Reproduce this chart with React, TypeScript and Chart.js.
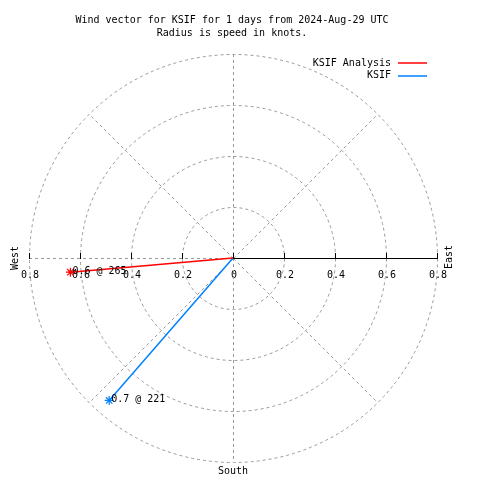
import React, { useEffect, useRef } from "react";
import { Chart, registerables } from "chart.js";

Chart.register(...registerables);

const titleLines = [
  "Wind vector for KSIF for 1 days from 2024-Aug-29 UTC",
  "Radius is speed in knots.",
];
const seriesNames = ["KSIF Analysis", "KSIF"];
const seriesColors = ["#ff0000", "#0080ff"];
const speeds = [0.64, 0.74];
const directions = [265, 221];
const ringValues = [0.2, 0.4, 0.6, 0.8];
const tickValues = [-0.8, -0.6, -0.4, -0.2, 0, 0.2, 0.4, 0.6, 0.8];
const spokeAngles = [45, 135, 225, 315];
const compassLabels = ["West", "East", "South"];
const rMax = 0.8;

const FONT = "10px 'DejaVu Sans Mono', 'Liberation Mono', monospace";
const GRID = "#999999";

function toXY(speed: number, dir: number) {
  const a = (dir * Math.PI) / 180;
  return { x: speed * Math.sin(a), y: speed * Math.cos(a) };
}

const polarPlugin = {
  id: "polarDecor",
  beforeDatasetsDraw(chart: any) {
    const ctx = chart.ctx as CanvasRenderingContext2D;
    const xs = chart.scales.x;
    const ys = chart.scales.y;
    const cx = xs.getPixelForValue(0);
    const cy = ys.getPixelForValue(0);
    const pxPerUnit = xs.getPixelForValue(1) - cx;
    ctx.save();
    ctx.font = FONT;
    ctx.fillStyle = "#000";

    // tick labels
    ctx.textAlign = "center";
    ctx.textBaseline = "middle";
    tickValues.forEach((v) => {
      const label = Math.abs(v) < 1e-9 ? "0" : String(Math.abs(v));
      ctx.fillText(label, xs.getPixelForValue(v) + 1, cy + 17);
    });

    // grid
    ctx.strokeStyle = GRID;
    ctx.lineWidth = 1;
    ctx.setLineDash([3, 3]);
    ringValues.forEach((r) => {
      ctx.beginPath();
      ctx.arc(cx + 0.5, cy + 0.5, r * pxPerUnit, 0, Math.PI * 2);
      ctx.stroke();
    });
    spokeAngles.forEach((deg) => {
      const p = toXY(rMax, deg);
      ctx.beginPath();
      ctx.moveTo(cx + 0.5, cy + 0.5);
      ctx.lineTo(xs.getPixelForValue(p.x) + 0.5, ys.getPixelForValue(p.y) + 0.5);
      ctx.stroke();
    });
    // vertical line
    ctx.beginPath();
    ctx.moveTo(cx + 0.5, ys.getPixelForValue(rMax));
    ctx.lineTo(cx + 0.5, ys.getPixelForValue(-rMax));
    ctx.stroke();
    // left horizontal dashed
    ctx.beginPath();
    ctx.moveTo(xs.getPixelForValue(-rMax), cy + 0.5);
    ctx.lineTo(cx, cy + 0.5);
    ctx.stroke();
    ctx.setLineDash([]);

    // solid r-axis
    ctx.strokeStyle = "#000";
    ctx.beginPath();
    ctx.moveTo(cx, cy + 0.5);
    ctx.lineTo(xs.getPixelForValue(rMax) + 1, cy + 0.5);
    ctx.stroke();
    // tick marks
    tickValues.forEach((v) => {
      const x = Math.round(xs.getPixelForValue(v)) + 0.5;
      ctx.beginPath();
      ctx.moveTo(x, cy - 5);
      ctx.lineTo(x, cy + 1);
      ctx.stroke();
    });

    // title
    ctx.textAlign = "center";
    ctx.textBaseline = "middle";
    ctx.fillText(titleLines[0], 232, 20);
    ctx.fillText(titleLines[1], 232, 33);

    // compass
    ctx.save();
    ctx.translate(15, cy);
    ctx.rotate(-Math.PI / 2);
    ctx.fillText(compassLabels[0], 0, 0);
    ctx.restore();
    ctx.save();
    ctx.translate(449, cy - 1);
    ctx.rotate(-Math.PI / 2);
    ctx.fillText(compassLabels[1], 0, 0);
    ctx.restore();
    ctx.fillText(compassLabels[2], cx, 471);

    // legend
    ctx.textAlign = "right";
    ctx.lineWidth = 1.5;
    seriesNames.forEach((name, i) => {
      const y = 63 + i * 12.5;
      ctx.fillStyle = "#000";
      ctx.fillText(name, 391, y);
      ctx.strokeStyle = seriesColors[i];
      ctx.beginPath();
      ctx.moveTo(398, Math.round(y));
      ctx.lineTo(427, Math.round(y));
      ctx.stroke();
    });
    ctx.restore();
  },
  afterDatasetsDraw(chart: any) {
    const ctx = chart.ctx as CanvasRenderingContext2D;
    ctx.save();
    ctx.font = FONT;
    ctx.fillStyle = "#000";
    ctx.textAlign = "left";
    ctx.textBaseline = "middle";
    speeds.forEach((s, i) => {
      const meta = chart.getDatasetMeta(i);
      const pt = meta.data[1];
      ctx.fillText(`${s.toFixed(1)} @ ${directions[i]}`, pt.x + 2, pt.y - 1);
    });
    ctx.restore();
  },
};

export default function App() {
  const ref = useRef<HTMLCanvasElement | null>(null);
  useEffect(() => {
    if (!ref.current) return;
    const datasets = seriesNames.map((name, i) => {
      const end = toXY(speeds[i], directions[i]);
      return {
        label: name,
        data: [{ x: 0, y: 0 }, end],
        showLine: true,
        borderColor: seriesColors[i],
        backgroundColor: seriesColors[i],
        borderWidth: 1.5,
        pointStyle: "star",
        pointRadius: [0, 4.5],
        pointBorderWidth: 1.2,
        pointBorderColor: seriesColors[i],
        clip: false,
      };
    });
    const chart = new Chart(ref.current, {
      type: "scatter",
      data: { datasets } as any,
      options: {
        animation: false,
        responsive: false,
        devicePixelRatio: 1,
        layout: { padding: { left: 29, right: 43, top: 54, bottom: 18 } },
        plugins: { legend: { display: false }, tooltip: { enabled: false }, title: { display: false } },
        scales: {
          x: { type: "linear", min: -rMax, max: rMax, display: false },
          y: { type: "linear", min: -rMax, max: rMax, display: false },
        },
      } as any,
      plugins: [polarPlugin],
    });
    return () => chart.destroy();
  }, []);
  return (
    <div style={{ position: "absolute", left: 0, top: 0, width: 480, height: 480, background: "#fff" }}>
      <canvas ref={ref} width={480} height={480} style={{ display: "block" }} />
    </div>
  );
}
